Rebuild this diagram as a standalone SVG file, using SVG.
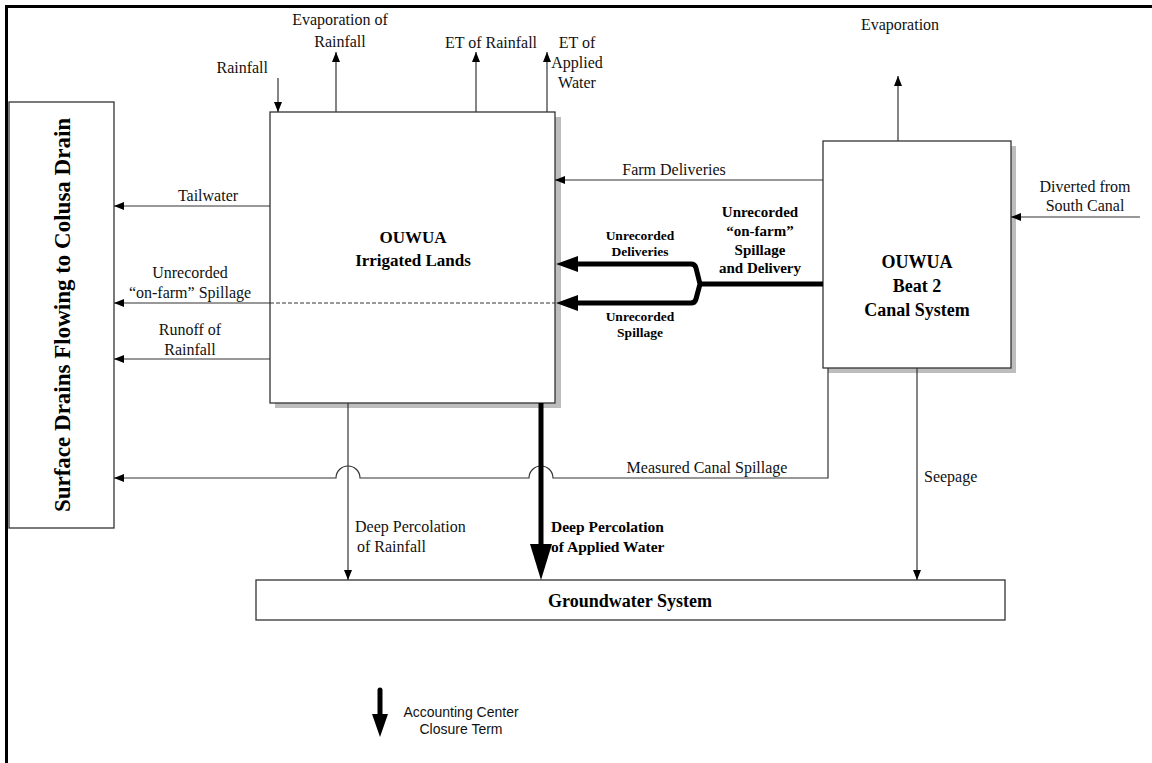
<svg xmlns="http://www.w3.org/2000/svg" width="1152" height="763" viewBox="0 0 1152 763">
<style>
.box{fill:#fff;stroke:#333;stroke-width:1.3}
.shadow{fill:#bdbdbd}
.ln{fill:none;stroke:#333;stroke-width:1.2}
.thick{fill:none;stroke:#000;stroke-width:5}
.t{font-family:"Liberation Serif","Times New Roman",serif;font-size:16px;fill:#111}
.b{font-family:"Liberation Serif","Times New Roman",serif;font-weight:bold;fill:#000}
.s{font-family:"Liberation Sans",Arial,sans-serif;font-size:14px;fill:#111}
</style>
<defs>
<marker id="ah" markerWidth="10" markerHeight="8" refX="10" refY="4" orient="auto" markerUnits="userSpaceOnUse">
<path d="M0,0 L10,4 L0,8 Z" fill="#000"/>
</marker>
</defs>
<rect width="1152" height="763" fill="#fff"/>
<path d="M6.5,763 V6.5 H1152" fill="none" stroke="#000" stroke-width="3"/>

<g id="surface-drains">
<rect class="box" x="9" y="102" width="105" height="426"/>
<text class="b" font-size="23" text-anchor="middle" transform="translate(70,315) rotate(-90)">Surface Drains Flowing to Colusa Drain</text>
</g>

<g id="irrigated-lands">
<rect class="shadow" x="275" y="117" width="286" height="291"/>
<rect class="box" x="270" y="112" width="285" height="291"/>
<text class="b" font-size="17" text-anchor="middle" x="413" y="243">OUWUA</text>
<text class="b" font-size="17" text-anchor="middle" x="413" y="266">Irrigated Lands</text>
</g>

<g id="canal-system">
<rect class="shadow" x="828" y="146" width="188" height="227"/>
<rect class="box" x="823" y="141" width="188" height="227"/>
<text class="b" font-size="18" text-anchor="middle" x="917" y="268">OUWUA</text>
<text class="b" font-size="18" text-anchor="middle" x="917" y="292">Beat 2</text>
<text class="b" font-size="18" text-anchor="middle" x="917" y="316">Canal System</text>
</g>

<g id="groundwater">
<rect class="box" x="256" y="580" width="749" height="40"/>
<text class="b" font-size="18" text-anchor="middle" x="630" y="607">Groundwater System</text>
</g>

<g id="connectors">
<line class="ln" x1="278" y1="78" x2="278" y2="112" marker-end="url(#ah)"/>
<line class="ln" x1="336" y1="112" x2="336" y2="52" marker-end="url(#ah)"/>
<line class="ln" x1="476" y1="112" x2="476" y2="52" marker-end="url(#ah)"/>
<line class="ln" x1="547" y1="112" x2="547" y2="52" marker-end="url(#ah)"/>
<line class="ln" x1="898" y1="141" x2="898" y2="76" marker-end="url(#ah)"/>
<line class="ln" x1="1140" y1="217" x2="1011" y2="217" marker-end="url(#ah)"/>
<line class="ln" x1="823" y1="180" x2="555" y2="180" marker-end="url(#ah)"/>
<line class="ln" x1="270" y1="206" x2="114" y2="206" marker-end="url(#ah)"/>
<line class="ln" x1="270" y1="303" x2="114" y2="303" marker-end="url(#ah)"/>
<line x1="270" y1="303" x2="555" y2="303" stroke="#333" stroke-width="1" stroke-dasharray="4,2"/>
<line class="ln" x1="270" y1="359" x2="114" y2="359" marker-end="url(#ah)"/>
<path class="ln" d="M828,368 V478 H553 A12,12 0 0 0 529,478 H360 A12,12 0 0 0 336,478 H114" marker-end="url(#ah)"/>
<line class="ln" x1="348" y1="403" x2="348" y2="580" marker-end="url(#ah)"/>
<line class="ln" x1="917" y1="368" x2="917" y2="580" marker-end="url(#ah)"/>
<line class="thick" x1="541" y1="403" x2="541" y2="548"/>
<path d="M530,544 L552,544 L541,580 Z" fill="#000"/>
<path class="thick" d="M823,284 H700"/>
<path class="thick" d="M576,264 H691 Q695,264 696,268 L700,284 L696,299 Q695,303 691,303 H576" stroke-linejoin="round"/>
<path d="M578,256 L578,272 L556,264 Z" fill="#000"/>
<path d="M578,295 L578,311 L556,303 Z" fill="#000"/>
</g>

<g id="labels">
<text class="t" text-anchor="end" x="268" y="73">Rainfall</text>
<text class="t" text-anchor="middle" x="340" y="25">Evaporation of</text>
<text class="t" text-anchor="middle" x="340" y="47">Rainfall</text>
<text class="t" text-anchor="middle" x="491" y="48">ET of Rainfall</text>
<text class="t" text-anchor="middle" x="577" y="48">ET of</text>
<text class="t" text-anchor="middle" x="577" y="68">Applied</text>
<text class="t" text-anchor="middle" x="577" y="88">Water</text>
<text class="t" text-anchor="middle" x="900" y="30">Evaporation</text>
<text class="t" text-anchor="middle" x="1085" y="192">Diverted from</text>
<text class="t" text-anchor="middle" x="1085" y="211">South Canal</text>
<text class="t" text-anchor="middle" x="674" y="175">Farm Deliveries</text>
<text class="t" text-anchor="middle" x="208" y="201">Tailwater</text>
<text class="t" text-anchor="middle" x="190" y="278">Unrecorded</text>
<text class="t" text-anchor="middle" x="190" y="298">“on-farm” Spillage</text>
<text class="t" text-anchor="middle" x="190" y="335">Runoff of</text>
<text class="t" text-anchor="middle" x="190" y="355">Rainfall</text>
<text class="b" font-size="13.5" text-anchor="middle" x="640" y="240">Unrecorded</text>
<text class="b" font-size="13.5" text-anchor="middle" x="640" y="256">Deliveries</text>
<text class="b" font-size="13.5" text-anchor="middle" x="640" y="321">Unrecorded</text>
<text class="b" font-size="13.5" text-anchor="middle" x="640" y="337">Spillage</text>
<text class="b" font-size="15" text-anchor="middle" x="760" y="217">Unrecorded</text>
<text class="b" font-size="15" text-anchor="middle" x="760" y="236">“on-farm”</text>
<text class="b" font-size="15" text-anchor="middle" x="760" y="255">Spillage</text>
<text class="b" font-size="15" text-anchor="middle" x="760" y="273">and Delivery</text>
<text class="t" text-anchor="middle" x="707" y="473">Measured Canal Spillage</text>
<text class="t" x="355" y="532">Deep Percolation</text>
<text class="t" x="357" y="552">of Rainfall</text>
<text class="b" font-size="15.5" x="551" y="532">Deep Percolation</text>
<text class="b" font-size="15.5" x="551" y="552">of Applied Water</text>
<text class="t" x="924" y="482">Seepage</text>
</g>

<g id="legend">
<line x1="380" y1="690" x2="380" y2="718" stroke="#000" stroke-width="5" stroke-linecap="round"/>
<path d="M372,714 L388,714 L380,737 Z" fill="#000"/>
<text class="s" text-anchor="middle" x="461" y="717">Accounting Center</text>
<text class="s" text-anchor="middle" x="461" y="734">Closure Term</text>
</g>
</svg>
